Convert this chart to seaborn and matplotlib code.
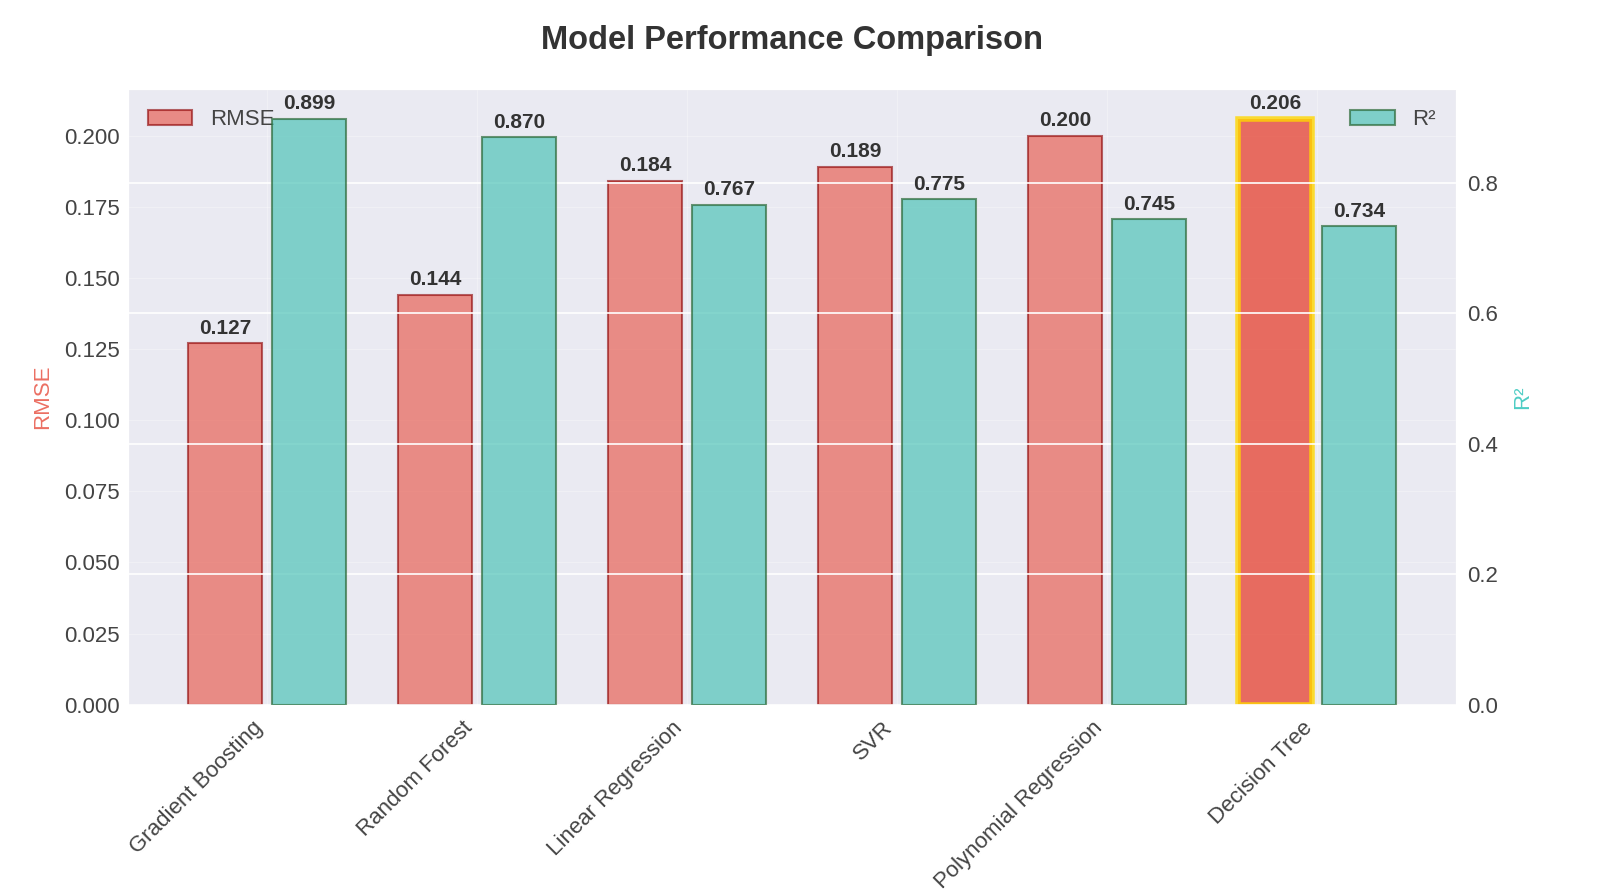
import numpy as np
import matplotlib
matplotlib.use('Agg')
import matplotlib.pyplot as plt
import seaborn as sns
import pandas as pd

# data
models = ['Gradient Boosting', 'Random Forest', 'Linear Regression', 'SVR',
          'Polynomial Regression', 'Decision Tree']
rmse = [0.127, 0.144, 0.184, 0.189, 0.200, 0.206]
r2 = [0.899, 0.870, 0.767, 0.775, 0.745, 0.734]
best_idx = 5  # highlighted bar

sns.set_style('darkgrid')
plt.rcParams['font.family'] = ['Liberation Sans', 'DejaVu Sans']

pos = np.arange(len(models))
df = pd.DataFrame({'model': models, 'rmse': rmse, 'r2': r2,
                   'x_rmse': pos - 0.2, 'x_r2': pos + 0.2})

fig, ax1 = plt.subplots(figsize=(16, 8.92), dpi=100)
ax2 = ax1.twinx()

# RMSE bars on left axis
sns.barplot(data=df, x='x_rmse', y='rmse', native_scale=True, width=0.35,
            color='#E74C3C', saturation=1, alpha=0.6, edgecolor='darkred',
            linewidth=1.5, ax=ax1)
# R2 bars on right axis
sns.barplot(data=df, x='x_r2', y='r2', native_scale=True, width=0.35,
            color='#50C4B8', saturation=1, alpha=0.7, edgecolor='#2E6B3A',
            linewidth=1.5, ax=ax2)

# highlight
hb = ax1.patches[best_idx]
hb.set_alpha(0.8)
hb.set_edgecolor('gold')
hb.set_linewidth(4)

# value labels
for i in range(len(models)):
    ax1.text(pos[i] - 0.2, rmse[i] + 0.002, '{:.3f}'.format(rmse[i]),
             ha='center', va='bottom', fontsize=15, fontweight='bold', color='#333333')
    ax2.text(pos[i] + 0.2, r2[i] + 0.008, '{:.3f}'.format(r2[i]),
             ha='center', va='bottom', fontsize=15, fontweight='bold', color='#333333')

ax1.set_ylim(0, max(rmse) * 1.05)
ax2.set_ylim(0, max(r2) * 1.05)
ax1.set_xlim(-0.6625, 5.6625)

ax1.set_xticks(pos)
ax1.set_xticklabels(models, rotation=45, ha='right', fontsize=16)
ax1.tick_params(axis='both', labelsize=16, length=0, labelcolor='#444444')
ax1.tick_params(axis='x', pad=9)
ax1.tick_params(axis='y', pad=6)
ax2.tick_params(axis='y', labelsize=16, length=0, labelcolor='#444444', pad=8)
ax1.set_yticks(np.arange(0, 0.201, 0.025))
ax2.set_yticks([0.0, 0.2, 0.4, 0.6, 0.8])

ax1.set_xlabel('')
ax2.set_xlabel('')
ax1.set_ylabel('RMSE', color='#E74C3C', fontsize=16, alpha=0.8, labelpad=8)
ax2.set_ylabel('R²', color='#4ECDC4', fontsize=16, labelpad=10)

ax1.grid(True, alpha=0.3)
ax2.grid(True, axis='y', color='white', linewidth=1.2)

ax1.legend(handles=[ax1.patches[0]], labels=['RMSE'], loc='upper left',
           frameon=False, fontsize=16, labelcolor='#444444')
ax2.legend(handles=[ax2.patches[0]], labels=['R²'], loc='upper right',
           frameon=False, fontsize=16, labelcolor='#444444')

ax1.set_title('Model Performance Comparison', fontsize=23.5, fontweight='bold',
              color='#333333', pad=29)

plt.subplots_adjust(left=0.08, right=0.91, top=0.90, bottom=0.21)
plt.savefig('out.png', dpi=100)
